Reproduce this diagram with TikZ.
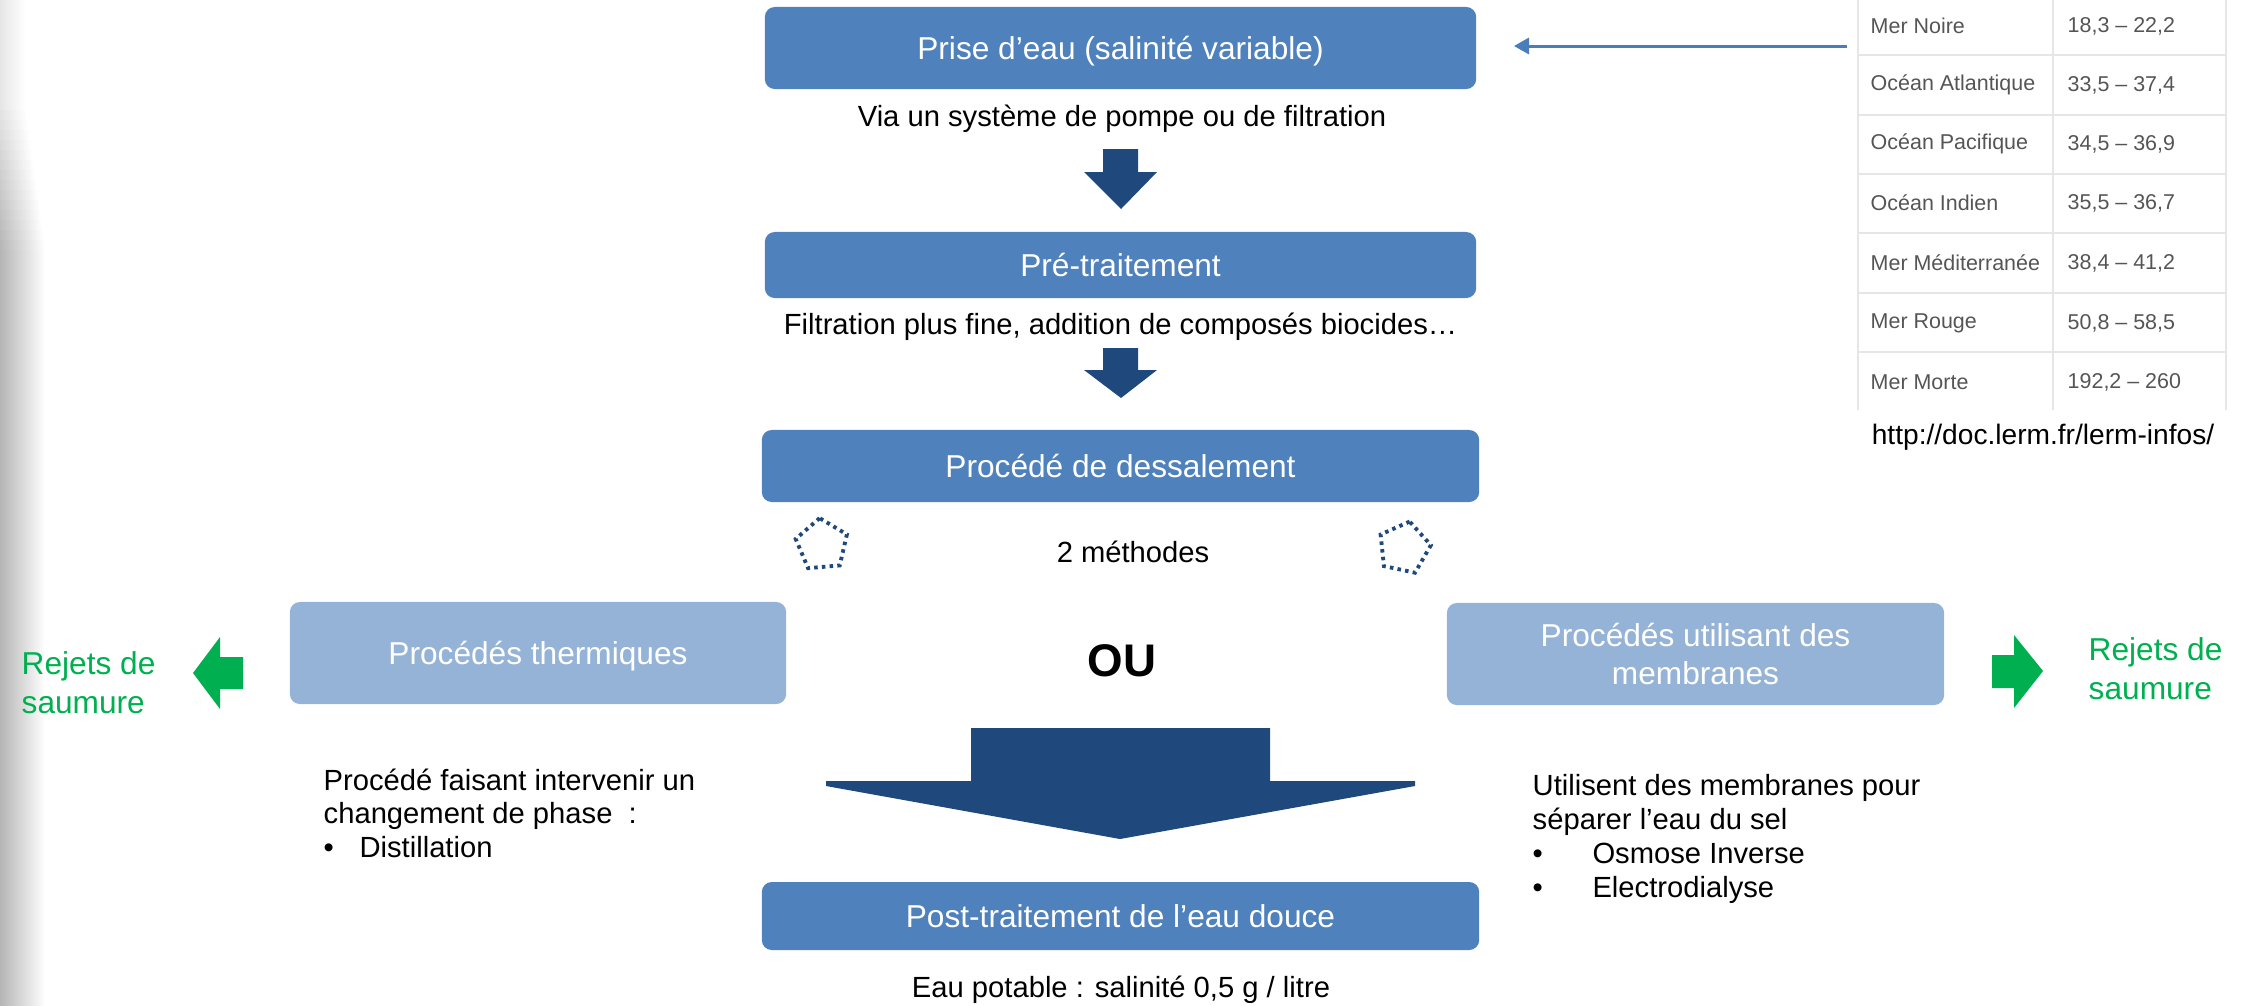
\documentclass[tikz,border=0pt]{standalone}
\usepackage{fontspec}
\setmainfont{Liberation Sans}
\usetikzlibrary{shapes.geometric,arrows.meta}
\definecolor{boxblue}{HTML}{4F81BD}
\definecolor{lightbox}{HTML}{95B3D7}
\definecolor{darkblue}{HTML}{1F497D}
\definecolor{saumure}{HTML}{00B050}
\definecolor{linkblue}{HTML}{4A7EBB}
\definecolor{tblline}{HTML}{E6E6E6}
\definecolor{tbltext}{HTML}{555555}
\begin{document}
\begin{tikzpicture}[x=0.01cm,y=-0.01cm,
  basebox/.style={fill=boxblue, rounded corners=0.1cm, text=white, font=\fontsize{9}{10.8}\selectfont, inner sep=0pt, align=center},
  mainbox/.style={basebox, text height=6.4pt, text depth=0pt},
  sidebox/.style={mainbox, fill=lightbox},
  sidebox2/.style={basebox, fill=lightbox},
  body/.style={font=\fontsize{8.3}{9.5}\selectfont, inner sep=0pt},
  blockarrow/.style={fill=darkblue},
  greenarrow/.style={fill=saumure},
  greentext/.style={text=saumure, font=\fontsize{9}{11}\selectfont, align=left, inner sep=0pt},
  tbl/.style={font=\fontsize{6.1}{7}\selectfont, text=tbltext, inner sep=0pt, anchor=west},
  penta/.style={regular polygon, regular polygon sides=5, draw=darkblue, line width=1.1pt, dash pattern=on 1pt off 1.2pt, minimum size=0.54cm, inner sep=0pt}
]
\useasboundingbox (0,0) rectangle (2249,1005);
% left page shadow
\shade[left color=black!10, right color=white] (0,0) rectangle (25,101);
\foreach \i in {0,...,14} {
  \pgfmathsetmacro\lv{10+\i*1.3}
  \pgfmathsetmacro\ww{25+\i*1.4}
  \pgfmathsetmacro\ya{100+\i*10}
  \pgfmathsetmacro\yb{111+\i*10}
  \shade[left color=black!\lv, right color=white] (0,\ya) rectangle (\ww,\yb);
}
\shade[left color=black!29, right color=white] (0,250) rectangle (45,1005);

% main column
\node[mainbox, minimum width=7.11cm, minimum height=0.82cm] (prise) at (1120.5,48) {Prise d’eau (salinité variable)};
\node[body] (via) at (1122,119) {Via un système de pompe ou de filtration};
\fill[blockarrow] (1103,149) -- (1138,149) -- (1138,172) -- (1157,172) -- (1121,209) -- (1084,172) -- (1103,172) -- cycle;

\node[mainbox, minimum width=7.11cm, minimum height=0.66cm] (pre) at (1120.5,265) {Pré-traitement};
\node[body] (filt) at (1120.5,327) {Filtration plus fine, addition de composés biocides…};
\fill[blockarrow] (1103,348) -- (1138,348) -- (1138,370) -- (1157,370) -- (1121,398) -- (1084,370) -- (1103,370) -- cycle;

\node[mainbox, minimum width=7.17cm, minimum height=0.72cm] (dess) at (1120.5,466) {Procédé de dessalement};
\node[penta, rotate=5] (pentaL) at (822,545) {};
\node[penta, rotate=-12] (pentaR) at (1404,548) {};
\node[body] (meth) at (1133,552) {2 méthodes};

\node[sidebox, minimum width=4.96cm, minimum height=1.02cm] (therm) at (538,653) {Procédés thermiques};
\node[sidebox2, minimum width=4.97cm, minimum height=1.02cm] (memb) at (1695.5,654) {Procédés utilisant des\\membranes};
\node[font=\fontsize{13}{15}\selectfont\bfseries, inner sep=0pt] (ou) at (1122,661) {OU};

% big arrow
\fill[blockarrow] (971,728) -- (1270,728) -- (1270,781) -- (1415,781) -- (1415,786) -- (1120,839) -- (826,786) -- (826,781) -- (971,781) -- cycle;

% green arrows and texts
\fill[greenarrow] (193,673) -- (220,637) -- (220,657) -- (243,657) -- (243,689) -- (220,689) -- (220,709) -- cycle;
\fill[greenarrow] (1992,655) -- (2014,655) -- (2014,635) -- (2043,671) -- (2014,708) -- (2014,688) -- (1992,688) -- cycle;
\node[greentext, anchor=north west] (rejL) at (21,651) {Rejets de\\saumure};
\node[greentext, anchor=north west] (rejR) at (2088,637) {Rejets de\\saumure};

% descriptions
\node[body, align=left, anchor=north west] (thermtxt) at (323,768) {Procédé faisant intervenir un\\changement de phase\ \ :\\\makebox[10.2pt][l]{•}Distillation};
\node[body, font=\fontsize{8.3}{9.65}\selectfont, align=left, anchor=north west] (membtxt) at (1532,774) {Utilisent des membranes pour\\séparer l’eau du sel\\\makebox[17pt][l]{•}Osmose Inverse\\\makebox[17pt][l]{•}Electrodialyse};

\node[mainbox, minimum width=7.17cm, minimum height=0.68cm] (post) at (1120.5,916) {Post-traitement de l’eau douce};
\node[body] (eau) at (1121,990) {Eau potable : salinité 0,5 g / litre};

% salinity table
\node[inner sep=0pt, minimum width=3.68cm, minimum height=4.14cm] (table) at (2042,203) {};
\draw[tblline, line width=0.6pt] (1858,-5) -- (1858,410) (2053,-5) -- (2053,410) (2226,-5) -- (2226,410);
\foreach \yy in {55,115,174,233,293,352} \draw[tblline, line width=0.6pt] (1858,\yy) -- (2226,\yy);
\node[tbl] (n1) at (1870,26) {Mer Noire};
\node[tbl] (v1) at (2067,26) {18,3 – 22,2};
\node[tbl] (n2) at (1870,85) {Océan Atlantique};
\node[tbl] (v2) at (2067,85) {33,5 – 37,4};
\node[tbl] (n3) at (1870,144) {Océan Pacifique};
\node[tbl] (v3) at (2067,144) {34,5 – 36,9};
\node[tbl] (n4) at (1870,203) {Océan Indien};
\node[tbl] (v4) at (2067,203) {35,5 – 36,7};
\node[tbl] (n5) at (1870,263) {Mer Méditerranée};
\node[tbl] (v5) at (2067,263) {38,4 – 41,2};
\node[tbl] (n6) at (1870,323) {Mer Rouge};
\node[tbl] (v6) at (2067,323) {50,8 – 58,5};
\node[tbl] (n7) at (1870,382) {Mer Morte};
\node[tbl] (v7) at (2067,382) {192,2 – 260};
\node[font=\fontsize{8}{9.6}\selectfont, inner sep=0pt] (url) at (2043,437) {http://doc.lerm.fr/lerm-infos/};

\coordinate (tblarrow) at (1847,46);
\draw[linkblue, line width=0.85pt, -{Triangle[length=4.3pt,width=4.6pt]}, shorten >=0.37cm] (tblarrow) -- (tblarrow -| prise.east);
\end{tikzpicture}
\end{document}
